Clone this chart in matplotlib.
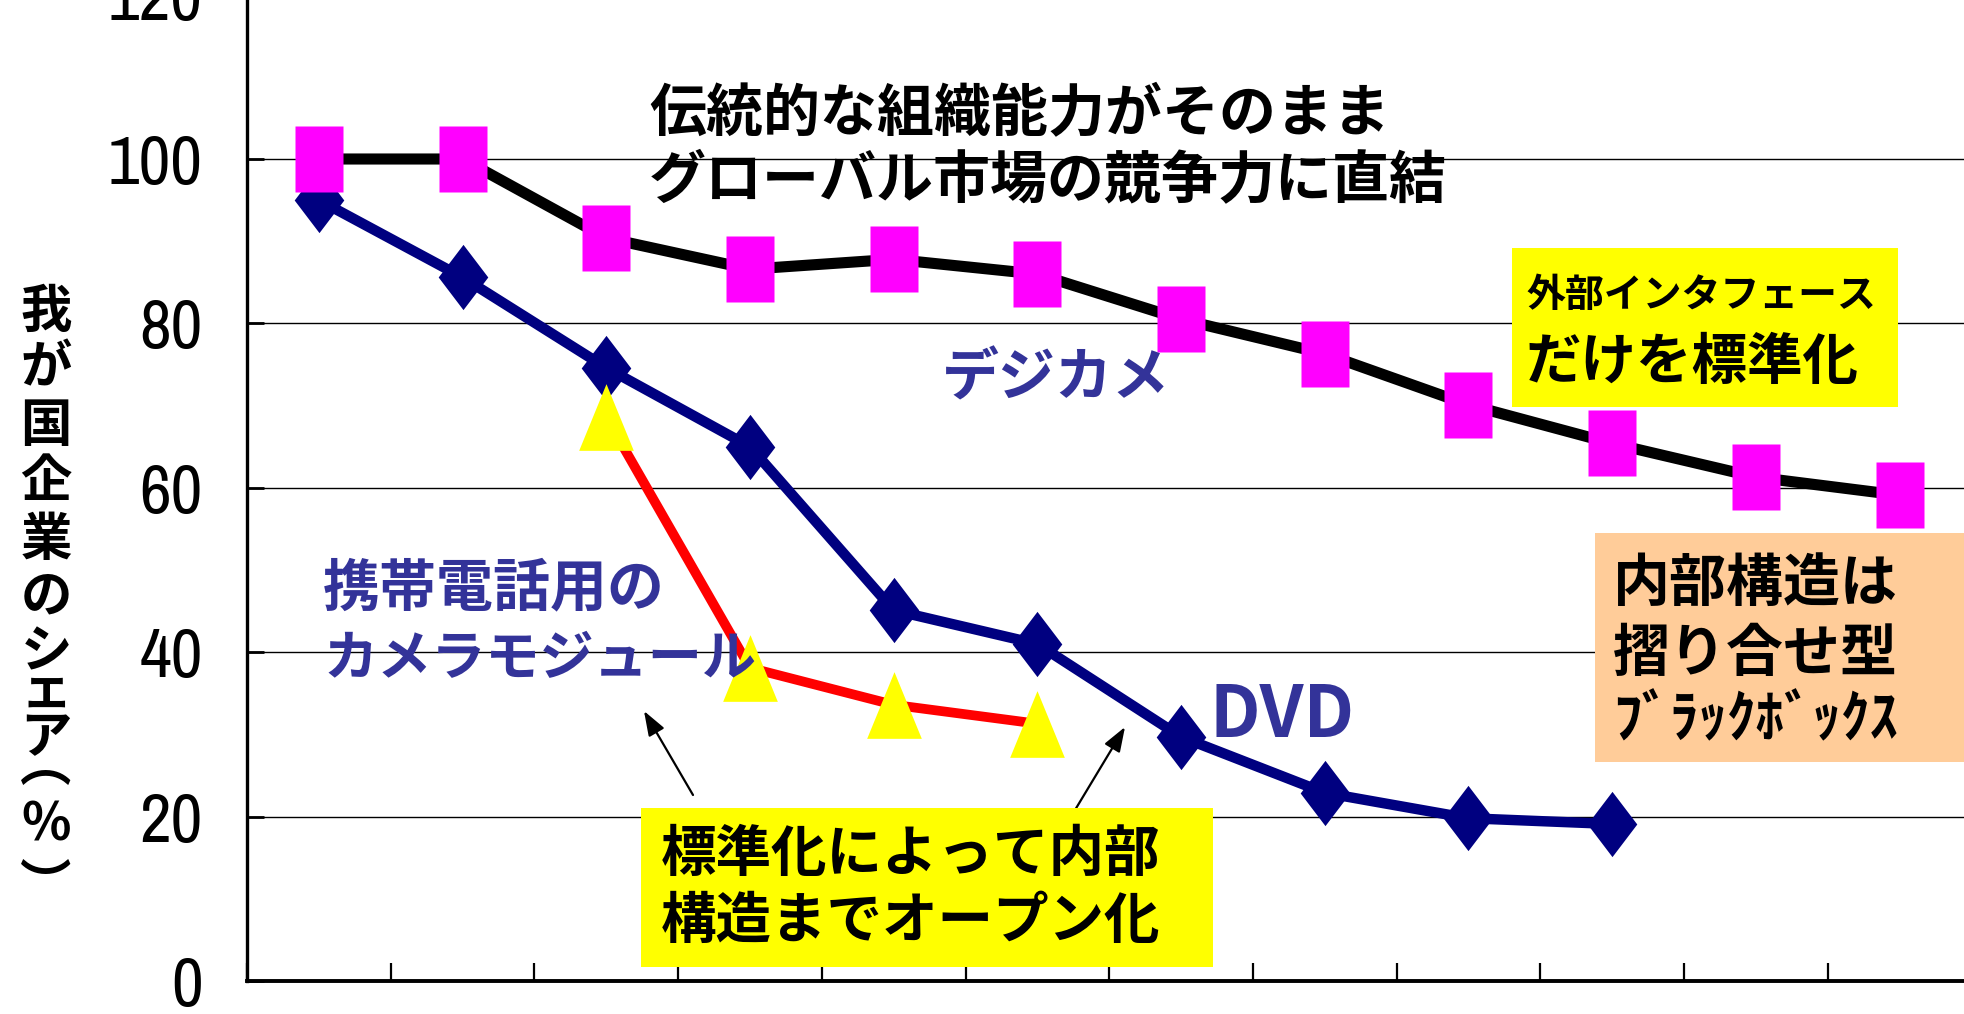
import numpy as np
import matplotlib
matplotlib.use('Agg')
import matplotlib.pyplot as plt
from matplotlib import font_manager
from matplotlib.font_manager import FontProperties
from matplotlib.patches import Rectangle

plt.rcParams['font.family'] = ['Noto Sans CJK JP', 'DejaVu Sans']

# Share of Japanese companies (%)
digicam_share = [100, 100, 90.4, 86.6, 87.8, 86.0, 80.5, 76.3, 70.1, 65.4, 61.3, 59.1]
dvd_share = [95.0, 85.6, 74.6, 65.0, 45.1, 41.0, 29.7, 22.9, 19.8, 19.1]
module_share = [68.6, 38.1, 33.6, 31.3]
module_start = 2          # camera module series starts at the 3rd period
y_ticks = [0, 20, 40, 60, 80, 100, 120]

ylabel_chars = ['我', 'が', '国', '企', '業', 'の', 'シ', 'ェ', 'ア', '︵', '%', '︶']

NAVY = '#000080'
TEXT_BLUE = '#333399'
MAGENTA = '#FF00FF'
YELLOW = '#FFFF00'
PEACH = '#FFCC99'

W_PX, H_PX = 1964, 1014
CAT_PX = 143.7            # width of one period on the x axis, in pixels


def fx(x):
    return x / W_PX


def fy(y):
    return 1 - y / H_PX


def narrow_font():
    """Look for a narrow/condensed sans for the tick numbers."""
    cands = []
    for f in font_manager.fontManager.ttflist:
        fn = f.fname
        if not ('Narrow' in fn or 'Condensed' in fn):
            continue
        if any(k in fn for k in ['Bold', 'Italic', 'Oblique', 'Mono', 'Serif', 'Light',
                                 'Thin', 'Black', 'Medium', 'SemiCondensed', 'Semi']):
            continue
        if f.style != 'normal' or f.weight not in (400, 'normal', 'regular'):
            continue
        cands.append(fn)
    if not cands:
        return None
    cands.sort(key=lambda p: (0 if ('ExtraCondensed' in p or 'Narrow' in p) else 1, p))
    return cands[0]


narrow = narrow_font()

fig = plt.figure(figsize=(W_PX / 100, H_PX / 100), dpi=100)
ax = fig.add_axes([fx(247), 1 - 981 / H_PX, 12 * CAT_PX / W_PX, (981 + 5.4) / H_PX])

# marker shapes (taller than wide, like the original)
rect = [(-0.375, -0.5), (0.375, -0.5), (0.375, 0.5), (-0.375, 0.5), (-0.375, -0.5)]
diamond = [(0, -0.5), (0.38, 0), (0, 0.5), (-0.38, 0), (0, -0.5)]
tri = [(0, 0.5), (0.41, -0.5), (-0.41, -0.5), (0, 0.5)]

x_all = np.arange(len(digicam_share))
x_dvd = np.arange(len(dvd_share))
x_mod = np.arange(len(module_share)) + module_start

ax.plot(x_dvd, dvd_share, color=NAVY, lw=7.5, marker=diamond, ms=47,
        mfc=NAVY, mec='none', zorder=3)
ax.plot(x_all, digicam_share, color='black', lw=8, marker=rect, ms=47,
        mfc=MAGENTA, mec='none', zorder=4)
ax.plot(x_mod, module_share, color='#FF0000', lw=7, marker=tri, ms=48,
        mfc=YELLOW, mec='none', zorder=5)

ax.set_xlim(-0.5, len(digicam_share) - 0.5)
ax.set_ylim(0, 120)
ax.set_xticks(np.arange(-0.5, len(digicam_share), 1.0))
ax.set_xticklabels([])
ax.set_yticks(y_ticks)
ax.tick_params(axis='x', direction='in', length=13, width=1.6)
ax.tick_params(axis='y', direction='in', length=12, width=2.0, pad=32)
if narrow:
    tick_fp = FontProperties(fname=narrow, size=50)
else:
    tick_fp = FontProperties(family='Liberation Sans', size=44)
for lbl in ax.get_yticklabels():
    lbl.set_fontproperties(tick_fp)
ax.yaxis.grid(True, color='black', lw=1.0)
ax.set_axisbelow(True)
for s in ['top', 'right']:
    ax.spines[s].set_visible(False)
ax.spines['left'].set_linewidth(2.4)
ax.spines['bottom'].set_linewidth(2.8)

# arrows from the bottom note
arrow = dict(arrowstyle='-|>,head_length=0.5,head_width=0.18', color='black',
             lw=1.6, mutation_scale=30, shrinkA=0, shrinkB=0)
ax.annotate('', xy=(fx(644), fy(711)), xytext=(fx(693), fy(795)),
            xycoords='figure fraction', textcoords='figure fraction', arrowprops=arrow)
ax.annotate('', xy=(fx(1125), fy(727)), xytext=(fx(1072), fy(815)),
            xycoords='figure fraction', textcoords='figure fraction', arrowprops=arrow)


def box(x0, y0, x1, y1, color):
    fig.add_artist(Rectangle((fx(x0), fy(y1)), (x1 - x0) / W_PX, (y1 - y0) / H_PX,
                             transform=fig.transFigure, facecolor=color,
                             edgecolor='none', zorder=1))


def put(s, x, y, size=41, color='black', ha='left'):
    fig.text(fx(x), fy(y), s, fontsize=size, fontweight='bold', color=color,
             ha=ha, va='center', zorder=3)


# headline
put('伝統的な組織能力がそのまま', 649, 114)
put('グローバル市場の競争力に直結', 649, 180)

# series labels
put('デジカメ', 942, 378, color=TEXT_BLUE)
put('携帯電話用の', 323, 588, color=TEXT_BLUE)
put('カメラモジュール', 323, 660, size=39, color=TEXT_BLUE)
put('DVD', 1209, 716, size=51, color=TEXT_BLUE)

# boxed notes
box(1512, 248, 1898, 407, YELLOW)
put('外部インタフェース', 1526, 296, size=28)
put('だけを標準化', 1526, 363, size=40)

box(1595, 533, 1980, 762, PEACH)
put('内部構造は', 1613, 584)
put('摺り合せ型', 1613, 654)
put('ﾌﾞﾗｯｸﾎﾞｯｸｽ', 1613, 720)

box(641, 808, 1213, 967, YELLOW)
put('標準化によって内部', 661, 855, size=40)
put('構造までオープン化', 661, 922, size=40)

# vertical y-axis label, one character per row
ylabel_y = [311, 368, 425, 482, 539, 596, 652, 690, 738, 765, 825, 886]
for ch, yy in zip(ylabel_chars, ylabel_y):
    put(ch, 46, yy, size=37, ha='center')

fig.savefig('out.png', dpi=100)
